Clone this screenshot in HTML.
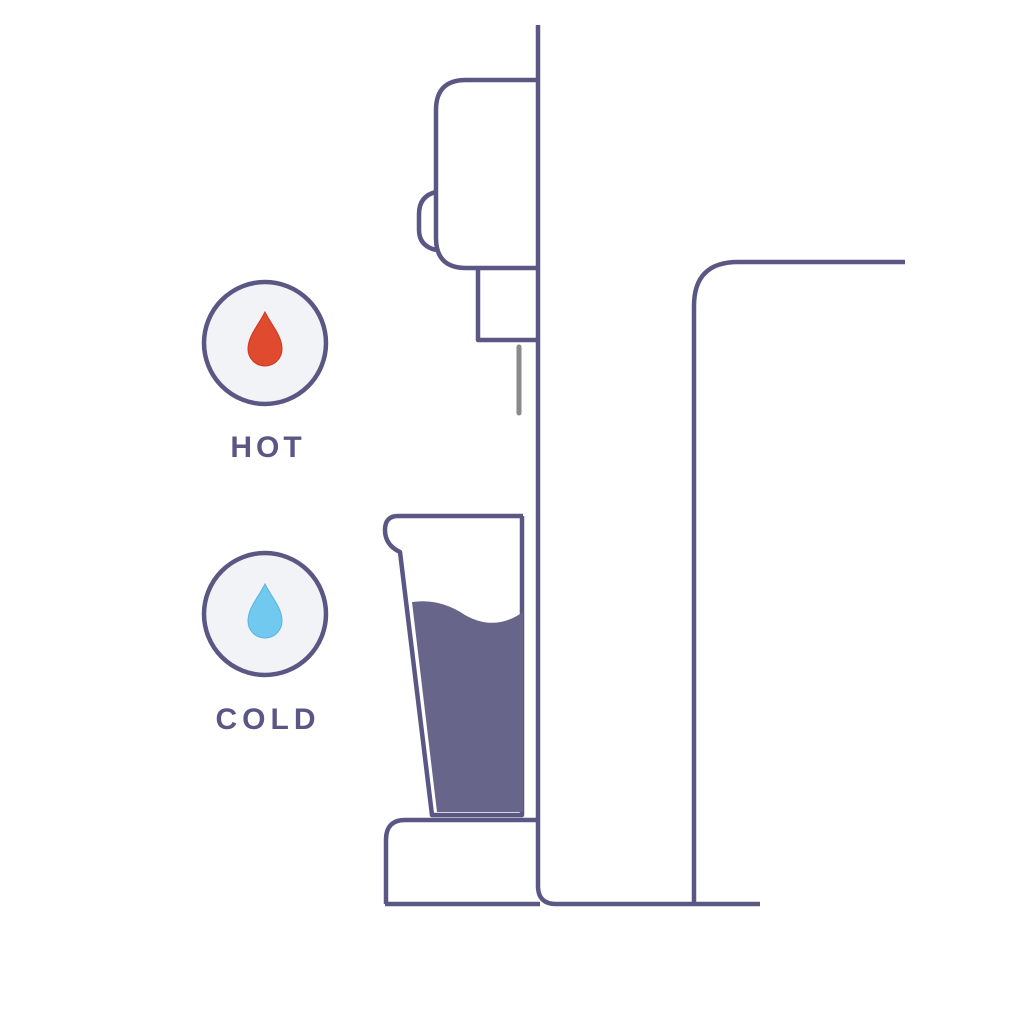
<!DOCTYPE html>
<html><head><meta charset="utf-8"><style>
html,body{margin:0;padding:0;background:#fff;}
svg{display:block;}
</style></head><body>
<svg width="1024" height="1024" viewBox="0 0 1024 1024" xmlns="http://www.w3.org/2000/svg">
<rect width="1024" height="1024" fill="#fff"/>
<g fill="none" stroke="#5b5785" stroke-width="4.5" stroke-linejoin="round">
  <path d="M538 25 V886 Q538 904 556 904 H760"/>
  <path d="M385 904 H540"/>
  <path d="M694 904 V306 Q694 262 738 262 H905"/>
  <path d="M536 80 H466 Q436 80 436 110 V238 Q436 268 466 268 H536"/>
  <path d="M436 192 Q419 196 419 214 V230 Q419 246 436 250"/>
  <path d="M478 270 V340 H536"/>
  <path d="M523 516 H398 Q385 516 385 530 Q385 545 400 552 L432 815 H522 V516"/>
  <path d="M536 820 H405 Q386 820 386 840 V904"/>
</g>
<path d="M519 347 V413" stroke="#8a8a8a" stroke-width="5" stroke-linecap="round"/>
<path d="M412 602 Q440 598 465 615 Q495 632 523 612 V812 H437 Z" fill="#67658a"/>
<circle cx="265" cy="343" r="61" fill="#f1f3f6" stroke="#5b5785" stroke-width="4.5"/>
<circle cx="265" cy="614" r="61" fill="#f1f3f6" stroke="#5b5785" stroke-width="4.5"/>
<path d="M265 312 C258 326 248 336 248 349 A17 17 0 0 0 282 349 C282 336 272 326 265 312 Z" fill="#e04a2f" stroke="#c83a22" stroke-width="1"/>
<path d="M265 584 C258 598 248 608 248 621 A17 17 0 0 0 282 621 C282 608 272 598 265 584 Z" fill="#72c9ef" stroke="#58b4e0" stroke-width="1"/>
<g font-family="Liberation Sans, sans-serif" font-weight="bold" font-size="30" fill="#5b5785" text-anchor="middle" letter-spacing="4">
  <text x="268" y="457">HOT</text>
  <text x="268" y="729" letter-spacing="5">COLD</text>
</g>
</svg>
</body></html>
